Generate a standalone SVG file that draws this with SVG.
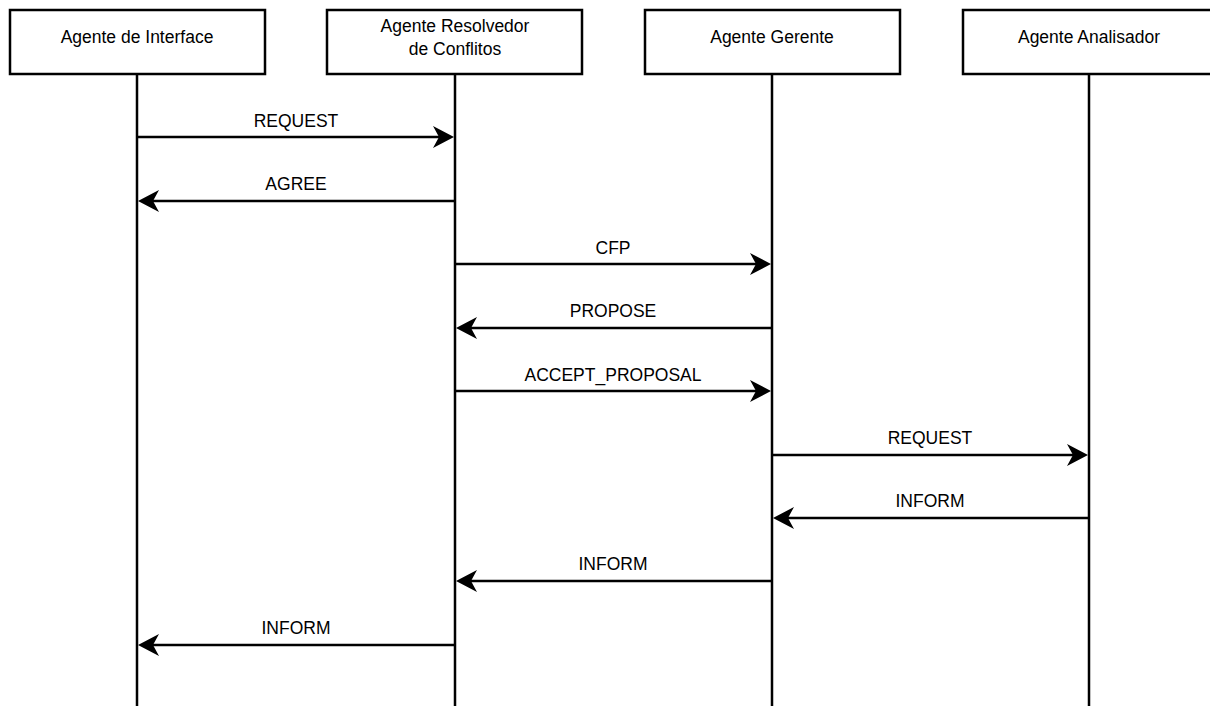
<svg xmlns="http://www.w3.org/2000/svg" width="1210" height="706" viewBox="0 0 1210 706">
  <style>
    .box { fill: #ffffff; stroke: #000000; stroke-width: 2.5; }
    .life { stroke: #000000; stroke-width: 2.5; fill: none; }
    .msg { stroke: #000000; stroke-width: 2.5; fill: none; marker-end: url(#head); }
    .t { font-family: "Liberation Sans", Arial, sans-serif; font-size: 17.5px; fill: #000000; text-anchor: middle; }
  </style>
  <defs>
    <marker id="head" markerUnits="userSpaceOnUse" markerWidth="22" markerHeight="24" viewBox="0 0 22 24" refX="6" refY="12" orient="auto">
      <path d="M0,1 L21,12 L0,23 L6,12 Z" fill="#000000"/>
    </marker>
  </defs>

  <!-- lifelines and agent boxes -->
  <g id="agente-interface">
    <line class="life" x1="137" y1="74" x2="137" y2="706"/>
    <rect class="box" x="10" y="10" width="255" height="64"/>
    <text class="t" x="137" y="43">Agente de Interface</text>
  </g>
  <g id="agente-resolvedor">
    <line class="life" x1="455" y1="74" x2="455" y2="706"/>
    <rect class="box" x="327" y="10" width="255" height="64"/>
    <text class="t" x="455" y="32">Agente Resolvedor</text>
    <text class="t" x="455" y="55">de Conflitos</text>
  </g>
  <g id="agente-gerente">
    <line class="life" x1="772" y1="74" x2="772" y2="706"/>
    <rect class="box" x="645" y="10" width="255" height="64"/>
    <text class="t" x="772" y="43">Agente Gerente</text>
  </g>
  <g id="agente-analisador">
    <line class="life" x1="1089" y1="74" x2="1089" y2="706"/>
    <rect class="box" x="963" y="10" width="255" height="64"/>
    <text class="t" x="1089" y="43">Agente Analisador</text>
  </g>

  <!-- messages -->
  <g id="messages">
    <line class="msg" x1="137" y1="137" x2="439" y2="137"/>
    <text class="t" x="296" y="127">REQUEST</text>

    <line class="msg" x1="455" y1="201" x2="153" y2="201"/>
    <text class="t" x="296" y="190">AGREE</text>

    <line class="msg" x1="455" y1="264" x2="756" y2="264"/>
    <text class="t" x="613" y="254">CFP</text>

    <line class="msg" x1="772" y1="328" x2="471" y2="328"/>
    <text class="t" x="613" y="317">PROPOSE</text>

    <line class="msg" x1="455" y1="391" x2="756" y2="391"/>
    <text class="t" x="613" y="381">ACCEPT_PROPOSAL</text>

    <line class="msg" x1="772" y1="455" x2="1073" y2="455"/>
    <text class="t" x="930" y="444">REQUEST</text>

    <line class="msg" x1="1089" y1="518" x2="788" y2="518"/>
    <text class="t" x="930" y="507">INFORM</text>

    <line class="msg" x1="772" y1="581" x2="471" y2="581"/>
    <text class="t" x="613" y="570">INFORM</text>

    <line class="msg" x1="455" y1="645" x2="153" y2="645"/>
    <text class="t" x="296" y="634">INFORM</text>
  </g>
</svg>
